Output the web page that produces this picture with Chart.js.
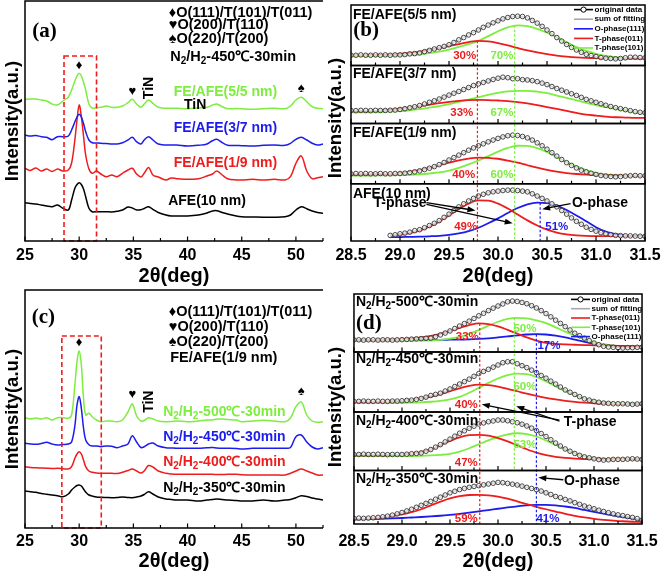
<!DOCTYPE html>
<html>
<head>
<meta charset="utf-8">
<script src="https://cdn.jsdelivr.net/npm/chart.js@4.4.1/dist/chart.umd.min.js"></script>
<style>
  html, body { margin: 0; padding: 0; background: #fff; }
  body { position: relative; width: 666px; height: 577px; overflow: hidden; }
  canvas { position: absolute; }
  .ytitle { position: absolute; font: bold 18.5px "Liberation Sans", Arial, sans-serif; color: #000;
            white-space: nowrap; transform: translate(-50%, -50%) rotate(-90deg); }
</style>
</head>
<body>
<canvas id="chartA" width="340" height="290" style="left:0;top:0"></canvas>
<canvas id="chartB" width="336" height="290" style="left:330px;top:0"></canvas>
<canvas id="chartC" width="340" height="288" style="left:0;top:289px"></canvas>
<canvas id="chartD" width="336" height="288" style="left:330px;top:289px"></canvas>
<div class="ytitle" style="left:12px;top:121px">Intensity(a.u.)</div>
<div class="ytitle" style="left:335px;top:118px">Intensity(a.u.)</div>
<div class="ytitle" style="left:12px;top:409px">Intensity(a.u.)</div>
<div class="ytitle" style="left:335px;top:407px">Intensity(a.u.)</div>
<script>
const FAM = '"Liberation Sans", Arial, sans-serif';
const SERIF = '"Liberation Serif", "Times New Roman", serif';
const GREEN = '#7ded3f', RED = '#ee1c1c', BLUE = '#1c1cee', GRAY = '#a8a8a8';

Chart.defaults.font.family = FAM;
Chart.defaults.font.weight = 'bold';
Chart.defaults.color = '#000';

// ---------- panels (a) and (c): XRD scans, 2theta grid ----------
const scanX = [25, 25.5, 26, 26.5, 27, 27.5, 28, 28.5, 29, 29.3, 29.6, 29.8, 30, 30.2, 30.4, 30.6, 30.9, 31.2, 31.6, 32,
  32.5, 33, 33.5, 34, 34.5, 34.9, 35.3, 35.7, 36, 36.4, 36.8, 37.3, 38, 38.5, 39, 40, 41, 41.8, 42.3, 42.7,
  43.2, 43.7, 44.5, 45, 46, 47, 48, 49, 49.5, 50, 50.5, 51, 51.5, 52, 52.5];

// (a) stacked scans, offset intensities
const a55 = [141.7,142,142,141,140,137,136,140,144,151, 160,165,167.7,165,159,151,137,133,133.3,133.7,
  135,133.7,133.7,135,138.3,141.7,137,133.7,137,141, 137.7,133.7,132.7,132.7,132.7,132.3,133,133.7,136,137,
  134.3,132.3,132.5,132.3,131.7,132.3,132.7,132.3,135,141, 143.7,139.3,134.3,132.7,132.3];
const a37 = [106,105,105.5,104.3,103.7,101.3,104.3,104.3,105,111, 119,124,126.7,124,117.5,109.3,101,98.3,98,97.7,
  97.5,97,97,98.3,101,103.7,99.3,97,101,104.3, 101,97,96,96,96,95,95.7,97,100.3,101.7,
  98.3,95.7,95.5,95.3,95,95.7,96,95.7,97.7,101.7, 103.7,101,97.7,96,97];
const a19 = [72.7,70.5,73,70,72,69.5,72,70,71,78, 101,121,136,124.3,105,86,72,67.7,70,67,
  64.3,66,64.3,67.7,71,72.7,67,64,67.7,73.5, 66,64,61,63,62.3,61.7,62.3,65,67,70,
  66,62.3,61,61,61.7,61,61.7,61,64.3,77.7, 85,70,62.3,63.3,64.3];
const aAFE = [38.3,37.5,37,36,35,34.3,36,32.7,31,41, 52.7,56.5,58.3,56.5,52,44.3,32.7,29.3,29.3,29.3,
  29.3,29,29.7,31,34,33,31,31.3,32.5,34.3, 31.7,28.5,26,25,25,25,26,28,30,30.3,
  28.5,27,25,24.3,24,23.7,23.7,24.3,26,31, 34.3,32.3,30,28.5,27.7];

// (c) stacked scans, offset intensities
const c500 = [110.3,109,110,109,110.3,108,110.3,110.3,109.7,113, 143,166.3,177,163,129.7,113,114.7,111.3,108,106.3,
  107,107,106.3,108,116,124,112,107,107.5,110.3, 109,107,106.3,106.5,107,106.3,107,108,108,109,
  109,108.5,108,106.3,107,107.7,107,106.3,110,121.3, 126,113,107,105.7,106.3];
const c450 = [84.7,84,83.7,84.5,85.7,84,83,83.5,84,86, 102,123,131.3,119.7,100,88,83.3,82,82,81.3,
  82,81.7,80.3,82,84,92.3,86,80.5,81.3,84, 85,82,80.3,80,79.7,79.7,79.7,80.3,80.5,80,
  79.7,79.7,79.5,79,79.7,79.7,79.7,79.7,80.5,91.3, 93,86,81,79,80.3];
const c400 = [61.3,60.5,60.3,60,59.7,59.5,59.7,59.3,59,61.3, 69.7,74,76.3,74,68,61.3,57,55.7,55,54.7,
  54.7,54.7,54.5,55.7,57.5,59,57,55,57,62.5, 61,57,54.7,54,53.7,53.7,53.7,53.7,53.7,53.5,
  53.5,53.7,53.7,53.3,53,53,53,53,54.7,57, 59,57,55,53,53];
const c350 = [37,36.3,35.7,34.5,33.7,33,32.3,31.3,34,38, 41,42.5,43,42,39,36,33,32,31,30.7,
  30.5,30.3,30.5,31,30.5,30.3,31,32,33.5,36.3, 34,31,29,28.5,28,28,27,28,28.5,29,
  28.5,28,27.5,27,27,28,27,28,28.5,30.3, 32.3,31.5,30,29,28];

// ---------- panels (b) and (d): peak fitting around 30 deg ----------
const fineX = [28.5,28.55,28.6,28.65,28.7,28.75,28.8,28.85,28.9,28.95,29,29.05,29.1,29.15,29.2,29.25,29.3,29.35,29.4,29.45,
  29.5,29.55,29.6,29.65,29.7,29.75,29.8,29.85,29.9,29.95,30,30.05,30.1,30.15,30.2,30.25,30.3,30.35,30.4,30.45,
  30.5,30.55,30.6,30.65,30.7,30.75,30.8,30.85,30.9,30.95,31,31.05,31.1,31.15,31.2,31.25,31.3,31.35,31.4,31.45,31.5];
const coarseX = [28.5,28.6,28.7,28.8,28.9,29,29.1,29.2,29.3,29.4,29.5,29.6,29.7,29.8,29.9,30,30.1,30.2,30.3,30.4,
  30.5,30.6,30.7,30.8,30.9,31,31.1,31.2,31.3,31.4,31.5];

// (b) FE/AFE(5/5 nm)
const b1Orig = [10.3,10.3,10.7,10.3,10.3,10.7,10.3,10.7,10.3,10.7, 10.7,11,11.7,12,12.7,14,15.3,16.7,18,19.3,
  21,23.3,26,28.3,31,33.3,36,38.7,41,43.3, 45.3,47.3,48.7,49.7,50,49.7,48.3,45.7,43,39.7,
  36,32.3,28.3,24.7,21.3,18.3,15.7,13.3,11.3,10, 9,8,7.3,7,6.7,7,7.7,8.3,8.3,8, 7.7];
const b1Sum = [10.3,10.3,10.3,10.4,10.5,10.7,11.7,12.7,15.3,18, 21,26,31,36,41,45.3,48.7,50,48.3,43,
  36,28.3,21.3,15.7,11.3,9,7.3,6.8,7.5,8.3, 7.8];
const b1T011 = [10.2,10.2,10.4,10.7,11,11.7,12.7,14,15.7,17.7, 19.7,21.7,23.7,25,24.4,22.7,20.4,17.7,15.2,13.2,
  11.4,10,9,8.2,7.7,7.4,7.2,7,6.9,6.9, 6.9];
const b1T101 = [9.4,9.4,9.4,9.5,9.7,9.9,10.4,11.2,12.4,14, 16,18.7,21.7,25,29.7,34.7,38.7,40.7,39.9,37.2,
  33.2,28.7,23.7,18.7,14.7,11.7,9.7,8.5,7.7,7.4, 7.2];
// (b) FE/AFE(3/7 nm)
const b2Orig = [13.2,13,13.3,13.2,13,13.3,13.2,13.2,13.4,13.6, 14.2,15,16,17,18.2,19.8,21.5,23,24.8,26.8,
  28.8,30.7,32.5,34.5,36.5,38.5,40.2,41.7,43.2,44.7, 46,47,46.5,45.5,45.5,44.5,44.2,43.5,42.5,41,
  39.5,37.5,35.5,33.8,32,30.2,28.5,26.5,24.5,23, 21.5,20,18.5,17.2,16,15,14,13,12,11.3, 10.8];
const b2Sum = [13.2,13.2,13.2,13.3,13.4,14.2,16,18.2,21.5,24.8, 28.8,32.5,36.5,40.2,43.2,46,46.5,45.5,44.2,42.5,
  39.5,35.5,32,28.5,24.5,21.5,18.5,16,14,12, 10.8];
const b2T011 = [12.3,12.3,12.4,13,14,15,16.3,17.7,19,20.7, 22,23,23.7,24,23.8,23.3,22.7,21.7,20.3,18.7,
  16.7,14.7,12.7,10.7,9,8,7,6.3,6,5.7, 5.7];
const b2T101 = [11.3,11.3,11.4,11.6,12,12.6,13.4,14.5,16,17.7, 19.7,22,24.3,26.7,29,31,32.5,33.2,33.2,32.3,
  30.7,28.3,26,23.5,21,18.7,16.5,14.7,13,11.3, 10];
// (b) FE/AFE(1/9 nm)
const b3Orig = [10,10.3,10,10.3,10,10,10.3,10,10,10.3, 10.3,10.7,11.3,12,13,14.3,15.7,17.3,19.3,21.5,
  24,26.5,29,31.5,34,36.3,38.5,40.5,42.5,44.3, 46,47.5,48.7,49.3,49,48,46.5,44.3,41.5,38.5,
  35,31.5,28,24.5,21.3,18.5,16,13.7,12,10.5, 9.3,8.3,7.7,7.3,7,7.3,7.7,8,8.3,8, 8];
const b3Sum = [10,10,10,10.2,10,10.3,11.3,13,15.7,19.3, 24,29,34,38.5,42.5,46,48.7,49,46.5,41.5,
  35,28,21.3,16,12,9.3,7.7,7,7.7,8.3, 8];
const b3T011 = [9.3,9.3,9.4,9.6,10,10.8,12,13.7,16,18.7, 21.3,23.7,25.5,26.5,26.3,25.3,23.5,21.3,18.7,16.2,
  14,12.2,10.8,9.8,9.2,8.8,8.5,8.3,8.2,8.1, 8];
const b3T101 = [8.3,8.3,8.3,8.4,8.5,8.7,9,9.5,10.3,11.5, 13.3,16,19.5,23.5,28,32.5,36.3,38.5,38.3,36,
  32,27,22,17.5,13.8,11,9.3,8.5,8.2,8, 8];
// (b) AFE(10 nm)
const b4Orig = [null,null,null,null,null,null,null,null,5.7,6.3, 7.3,8,9,10.5,11.5,13.5,15.7,18,20.7,24,
  27.3,31,34.7,37.8,40.7,43.3,45.7,47.5,49,50, 50.7,51.3,51.7,51.7,51.3,50.7,50,48,45.7,43.3,
  40.7,37.8,34.7,31,27.3,23.5,20,17,14,11.8, 10,8.5,7.3,6.5,5.7,5.5,5.3,5.2,5,4.8, 4.7];
const b4Sum = [null,null,null,null,5.7,7.3,9,11.5,15.7,20.7, 27.3,34.7,40.7,45.7,49,50.7,51.7,51.3,50,45.7,
  40.7,34.7,27.3,20,14,10,7.3,5.7,5.3,5, 4.7];
const b4T011 = [null,null,null,null,5.7,6.5,8,10.5,14.5,19.7, 26,32.5,38,41.3,41,38,33,27,21,15.8,
  11.5,8.5,6.7,5.7,5.2,5,5,5,5,5, 5];
const b4O111 = [null,null,null,null,4,4,4.2,4.4,4.8,5.3, 6.2,7.7,10,13.5,18,23,28.5,33.5,37.3,39,
  38.5,36,31.5,26,20,14,9.5,7,5.5,5, 4.7];

// (d) 500 C
const d1Orig = [12.3,12.3,12,12.3,12.3,12,12.3,12.3,12,12.3, 12.5,12.7,13,13.3,13.5,13.8,14,15.5,17.3,19.2,
  21.3,23.8,26.3,28.8,31.3,34,36.7,39.3,42,44.5, 46.7,48.8,51,51.7,51.3,50.3,49,47,44.7,42,
  39,35.7,32.3,29,25.7,22.3,19,16.5,14,11.5, 9,7.3,5.7,5,4.7,4.3,4,4.3,4.3,4.7, 4.7];
const d1Sum = [12.3,12,12.3,12.3,12,12.5,13,13.5,14,17.3, 21.3,26.3,31.3,36.7,42,46.7,51,51.3,49,44.7,
  39,32.3,25.7,19,14,9,5.7,4.7,4,4.3, 4.7];
const d1T011 = [12.3,12.3,12.3,12.4,12.6,13,13.7,14.7,16.2,18.3, 21.3,24.5,27.3,29,28.3,26,22.5,18.7,14.7,11.5,
  9.3,8.2,7.6,7.3,7,6.8,6.5,6.3,6,5.8, 5.7];
const d1T101 = [11.3,11.3,11.3,11.3,11.3,11.3,11.3,11.4,11.6,12.2, 13.5,15.3,18.3,22.3,26.7,30.7,33.7,34.7,34,32,
  29.3,25,20.7,16.7,13,10,7.8,6.5,6,5.8, 5.7];
const d1O111 = [12.3,12.3,12.3,12.3,12.3,12.3,12.3,12.3,12.3,12.3, 12.4,12.5,12.8,13.2,13.8,14.7,15.7,16.8,17.7,18,
  17.7,16.5,14.7,12.5,10.3,8.5,7.2,6.2,5.5,5, 4.7];
// (d) 450 C
const d2Orig = [10.7,10.7,11,10.7,10.7,11,10.7,10.7,11,11, 11.3,11.7,12,12.7,13.7,15,16.7,17.8,19,21.2,
  23.3,25.8,28.3,30.8,33.3,36.2,39,41.2,43.3,45.5, 47.7,50,51,51,49,47,45,42.5,40,37,
  34.3,31.3,28.3,25.3,22.3,20,17.7,15.5,13.3,12, 10.7,9.8,9,8.7,8.3,8.3,8.3,8,7.7,8, 8.3];
const d2Sum = [10.7,11,10.7,10.7,11,11.3,12,13.7,16.7,19, 23.3,28.3,33.3,39,43.3,47.7,51,49,45,40,
  34.3,28.3,22.3,17.7,13.3,10.7,9,8.3,8.3,7.7, 8.3];
const d2T011 = [10,10,10.1,10.3,10.7,11.3,12.3,13.7,15.5,18, 21,24,26.5,27.7,27.3,25.8,23.5,21,18.5,16.3,
  14.3,12.7,11.3,10.2,9.4,8.8,8.4,8.1,7.9,7.8, 7.7];
const d2T101 = [9.3,9.3,9.3,9.3,9.3,9.3,9.4,9.7,10.3,11.2, 12.7,15.3,19.5,24.5,29.5,34,37.5,39,38.3,35.5,
  31,26,21.3,17,13.5,11.3,9.8,9,8.6,8.4, 8.3];
// (d) 400 C
const d3Orig = [16.2,16.2,16.5,16.2,16.2,16.5,16.2,16,16.2,16.2, 16.2,16.5,17,17.3,17.8,19.5,21.2,23.7,26.2,29,
  31.8,34.8,37.8,40.3,42.8,45,47.2,48.3,49.5,50.3, 51.2,51.2,50.5,49.5,48.5,47,45.2,43,40.5,37.5,
  34.5,31.2,27.8,24.8,21.8,19.5,17.2,15.3,13.8,12.8, 11.8,11,10.5,10.8,11.2,11.2,11.2,11.5,11.8,11.5, 11.2];
const d3Sum = [16.2,16.5,16.2,16.2,16.2,16.2,17,17.8,21.2,26.2, 31.8,37.8,42.8,47.2,49.5,51.2,50.5,48.5,45.2,40.5,
  34.5,27.8,21.8,17.2,13.8,11.8,10.5,11.2,11.2,11.8, 11.2];
const d3T011 = [15.2,15.2,15.2,15.3,15.5,16,17,18.7,21.2,25.5, 30,33.7,35.8,36.2,35.3,32.8,29.5,25.5,21.5,18,
  15.5,13.8,12.7,12,11.6,11.4,11.3,11.2,11.2,11.2, 11.2];
const d3T101 = [14.5,14.5,14.5,14.5,14.5,14.5,14.6,14.8,15.2,15.8, 16.8,19,22.5,26.5,30.5,34,36.7,37.8,37,34.5,
  30.5,26,21.5,17.5,14.5,12.8,12,11.6,11.4,11.3, 11.2];
// (d) 350 C
const d4Orig = [5.7,6,5.7,6,6.3,6.7,7.3,8,9,10.3, 11.7,13.3,15,17,19,21,23,25.2,27.3,29.5,
  31.7,33.3,35,36.2,37.3,38.2,39,39.8,40.7,41.5, 42.3,42,41.3,40.5,39.7,38.5,37.3,36.2,35,33.5,
  31.7,30,28,26.8,25,23.5,21.7,20,18.3,17, 15.5,14,12.7,11.5,10.3,9.3,8.5,7.5,6.7,5.5, 4];
const d4Sum = [5.7,5.7,6.3,7.3,9,11.7,15,19,23,27.3, 31.7,35,37.3,39,40.7,42.3,41.3,39.7,37.3,35,
  31.7,28,25,21.7,18.3,15.5,12.7,10.3,8.5,6.7, 4];
const d4T011 = [4.7,5,5.7,6.7,8,9.7,12,15,19,22.7, 26,28.3,29.5,29.7,29.2,27.8,25.7,23,20.3,17.5,
  15,12.7,10.3,8.3,6.7,5.3,4.3,3.5,2.8,2.3, 2];
const d4O111 = [4.7,4.9,5.1,5.4,5.7,6.1,6.6,7.1,7.7,8.4, 9.3,10.3,11.5,12.8,14.2,15.5,16.8,18,19,19.5,
  19.5,19,17.8,16.3,14.3,12.3,10.5,8.7,7,5.7, 4];

// fitted peak centres (deg)
const bPeaks = { T011: 29.79, T101: 30.17, O111: 30.43 };
const dPeaks = { T011: 29.81, T101: 30.17, O111: 30.40 };

const pts = (xs, ys) => xs.map((x, i) => ({ x, y: ys[i] }));

// ---------- drawing helpers ----------
function drawText(ctx, n, px, py) {
  const size = n.s || 14;
  const fam = n.serif ? SERIF : FAM;
  const parts = String(n.t).split(/(_\d)/).filter(Boolean)
    .map(p => p[0] === '_' ? { t: p.slice(1), sub: true } : { t: p, sub: false });
  const fN = `bold ${size}px ${fam}`, fS = `bold ${Math.round(size * 0.68)}px ${fam}`;
  let w = 0;
  parts.forEach(p => { ctx.font = p.sub ? fS : fN; p.w = ctx.measureText(p.t).width; w += p.w; });
  ctx.save();
  ctx.translate(px, py);
  if (n.rot) ctx.rotate(n.rot * Math.PI / 180);
  let x = n.al === 'left' ? 0 : -w / 2;
  ctx.fillStyle = n.c || '#000';
  ctx.textBaseline = 'middle';
  ctx.textAlign = 'left';
  parts.forEach(p => { ctx.font = p.sub ? fS : fN; ctx.fillText(p.t, x, p.sub ? size * 0.3 : 0); x += p.w; });
  ctx.restore();
}

function drawArrow(ctx, x0, y0, x1, y1) {
  const a = Math.atan2(y1 - y0, x1 - x0), L = 8, W = 3;
  ctx.strokeStyle = '#000'; ctx.fillStyle = '#000'; ctx.lineWidth = 1.3;
  ctx.beginPath(); ctx.moveTo(x0, y0); ctx.lineTo(x1 - L * 0.8 * Math.cos(a), y1 - L * 0.8 * Math.sin(a)); ctx.stroke();
  ctx.beginPath();
  ctx.moveTo(x1, y1);
  ctx.lineTo(x1 - L * Math.cos(a) + W * Math.sin(a), y1 - L * Math.sin(a) - W * Math.cos(a));
  ctx.lineTo(x1 - L * Math.cos(a) - W * Math.sin(a), y1 - L * Math.sin(a) + W * Math.cos(a));
  ctx.closePath(); ctx.fill();
}

const decoPlugin = {
  id: 'deco',
  afterDatasetsDraw(chart, args, o) {
    const { ctx, chartArea: ca, scales } = chart;
    const xs = scales.x;
    ctx.save();
    // dashed guide lines at fitted peak centres
    (o.guides || []).forEach(g => {
      const px = xs.getPixelForValue(g.x);
      ctx.strokeStyle = g.color; ctx.lineWidth = 1.2; ctx.setLineDash([2.5, 2]);
      ctx.beginPath();
      ctx.moveTo(px, scales[g.from].getPixelForValue(g.y));
      ctx.lineTo(px, scales[g.to].bottom);
      ctx.stroke();
    });
    // dashed selection box
    (o.boxes || []).forEach(b => {
      const x0 = xs.getPixelForValue(b.x0), x1 = xs.getPixelForValue(b.x1);
      const y0 = scales.y.getPixelForValue(b.y0), y1 = scales.y.getPixelForValue(b.y1);
      ctx.strokeStyle = RED; ctx.lineWidth = 1.6; ctx.setLineDash([5, 3]);
      ctx.strokeRect(x0, y1, x1 - x0, y0 - y1);
    });
    ctx.setLineDash([]);
    // frames and inward ticks
    o.panels.forEach(k => {
      const s = scales[k];
      ctx.strokeStyle = '#000'; ctx.lineWidth = 1.5;
      ctx.beginPath();
      if (o.open) {
        ctx.moveTo(ca.right, s.top); ctx.lineTo(ca.left, s.top);
        ctx.lineTo(ca.left, s.bottom); ctx.lineTo(ca.right, s.bottom);
      } else {
        ctx.rect(ca.left, s.top, ca.right - ca.left, s.bottom - s.top);
      }
      ctx.stroke();
      ctx.lineWidth = 1.2;
      ctx.beginPath();
      for (let v = xs.min; v <= xs.max + 1e-9; v += o.minor) {
        const px = xs.getPixelForValue(v);
        const r = v / o.major;
        const len = Math.abs(r - Math.round(r)) < 1e-6 ? 4.5 : 3;
        ctx.moveTo(px, s.bottom); ctx.lineTo(px, s.bottom - len);
      }
      ctx.stroke();
    });
    // text notes
    (o.notes || []).forEach(n => {
      drawText(ctx, n, xs.getPixelForValue(n.x), scales[n.ax || 'y'].getPixelForValue(n.y));
    });
    // arrows
    (o.arrows || []).forEach(a => {
      drawArrow(ctx, xs.getPixelForValue(a.x0), scales[a.ax0].getPixelForValue(a.y0),
                xs.getPixelForValue(a.x1), scales[a.ax1].getPixelForValue(a.y1));
    });
    // legend box
    if (o.legend) {
      const L = o.legend;
      L.items.forEach(([label, kind], i) => {
        const y = ca.top + L.top + i * L.gap;
        const x0 = ca.right - 71, x1 = ca.right - 52;
        ctx.strokeStyle = kind === 'orig' ? '#000' : kind; ctx.lineWidth = 1.6;
        ctx.beginPath(); ctx.moveTo(x0, y); ctx.lineTo(x1, y); ctx.stroke();
        if (kind === 'orig') {
          ctx.lineWidth = 1; ctx.fillStyle = '#fff';
          ctx.beginPath(); ctx.arc((x0 + x1) / 2, y, 2.6, 0, Math.PI * 2); ctx.fill(); ctx.stroke();
        }
        ctx.fillStyle = '#000'; ctx.font = `bold 8px ${FAM}`;
        ctx.textAlign = 'left'; ctx.textBaseline = 'middle';
        ctx.fillText(label, ca.right - 50.5, y);
      });
    }
    ctx.restore();
  }
};

function xTitle() {
  return { display: true, text: '2θ(deg)', font: { size: 20, weight: 'bold' }, color: '#000', padding: 0 };
}

function scanChart(id, series, lay, deco) {
  return new Chart(document.getElementById(id), {
    type: 'line',
    data: {
      datasets: series.map(([label, color, ys]) => ({
        label, data: pts(scanX, ys), borderColor: color, borderWidth: 1.5,
        pointRadius: 0, tension: 0.35
      }))
    },
    options: {
      responsive: false, animation: false, events: [],
      layout: { padding: lay.pad },
      scales: {
        x: {
          type: 'linear', min: 25, max: 52.5,
          ticks: { stepSize: 5, includeBounds: false, autoSkip: false, maxRotation: 0,
                   padding: lay.tickPad, font: { size: 16, weight: 'bold' }, color: '#000' },
          grid: { display: false, drawTicks: false }, border: { display: false },
          title: xTitle(),
          afterFit: s => { s.height = lay.axisH; }
        },
        y: { display: false, min: 0, max: lay.yMax }
      },
      plugins: { legend: { display: false }, tooltip: { enabled: false }, deco }
    },
    plugins: [decoPlugin]
  });
}

function fitChart(id, subs, lay, deco) {
  const scales = {
    x: {
      type: 'linear', min: 28.5, max: 31.5,
      ticks: { stepSize: 0.5, autoSkip: false, maxRotation: 0, callback: v => v.toFixed(1),
               padding: lay.tickPad, font: { size: 16, weight: 'bold' }, color: '#000' },
      grid: { display: false, drawTicks: false }, border: { display: false },
      title: xTitle(),
      afterFit: s => { s.height = lay.axisH; }
    }
  };
  // last defined stacked axis is placed on top
  subs.slice().reverse().forEach(sp => {
    scales[sp.id] = {
      type: 'linear', position: 'left', stack: 'fit', stackWeight: sp.h, min: 0, max: sp.h,
      ticks: { display: false }, grid: { display: false, drawTicks: false }, border: { display: false },
      afterFit: s => { s.width = 0; }
    };
  });
  const datasets = [];
  subs.forEach(sp => {
    datasets.push({ label: 'original data', yAxisID: sp.id, data: pts(fineX, sp.orig), showLine: false,
      pointRadius: 2.3, pointBorderWidth: 0.9, pointBorderColor: '#333', pointBackgroundColor: 'rgba(255,255,255,0.55)' });
    datasets.push({ label: 'sum of fitting', yAxisID: sp.id, data: pts(coarseX, sp.sum), borderColor: GRAY,
      borderWidth: 1.5, pointRadius: 0, cubicInterpolationMode: 'monotone' });
    sp.fits.forEach(([label, color, ys]) => datasets.push({ label, yAxisID: sp.id, data: pts(coarseX, ys),
      borderColor: color, borderWidth: 1.8, pointRadius: 0, cubicInterpolationMode: 'monotone' }));
  });
  return new Chart(document.getElementById(id), {
    type: 'line',
    data: { datasets },
    options: {
      responsive: false, animation: false, events: [],
      layout: { padding: lay.pad },
      scales,
      plugins: { legend: { display: false }, tooltip: { enabled: false }, deco }
    },
    plugins: [decoPlugin]
  });
}

// ---------- (a) ----------
scanChart('chartA', [
  ['FE/AFE(5/5 nm)', GREEN, a55], ['FE/AFE(3/7 nm)', BLUE, a37],
  ['FE/AFE(1/9 nm)', RED, a19], ['AFE(10 nm)', '#000', aAFE]
], { pad: { left: 25, right: 17, top: 1, bottom: 2 }, axisH: 47, tickPad: 5.4, yMax: 240 }, {
  panels: ['y'], open: true, minor: 2.5, major: 5,
  boxes: [{ x0: 28.6, x1: 31.6, y0: 0, y1: 185 }],
  notes: [
    { x: 38.27, y: 228.3, t: '♦O(111)/T(101)/T(011)', al: 'left', s: 14.5 },
    { x: 38.27, y: 216, t: '♥O(200)/T(110)', al: 'left', s: 14.5 },
    { x: 38.27, y: 201.7, t: '♠O(220)/T(200)', al: 'left', s: 14.5 },
    { x: 38.4, y: 184.3, t: 'N_2/H_2-450℃-30min', al: 'left', s: 14.5 },
    { x: 26.8, y: 209, t: '(a)', serif: true, s: 21 },
    { x: 30.0, y: 176, t: '♦', s: 13 },
    { x: 34.9, y: 149.3, t: '♥', s: 13 },
    { x: 50.5, y: 152.7, t: '♠', s: 13 },
    { x: 36.5, y: 153, t: 'TiN', rot: -90, s: 14 },
    { x: 40.7, y: 136, t: 'TiN', s: 14 },
    { x: 43.5, y: 149.3, t: 'FE/AFE(5/5 nm)', c: GREEN },
    { x: 43.5, y: 112.7, t: 'FE/AFE(3/7 nm)', c: BLUE },
    { x: 43.5, y: 77.7, t: 'FE/AFE(1/9 nm)', c: RED },
    { x: 41.8, y: 40, t: 'AFE(10 nm)' }
  ]
});

// ---------- (c) ----------
scanChart('chartC', [
  ['N2/H2-500', GREEN, c500], ['N2/H2-450', BLUE, c450],
  ['N2/H2-400', RED, c400], ['N2/H2-350', '#000', c350]
], { pad: { left: 25, right: 17, top: 1, bottom: 4 }, axisH: 45, tickPad: 4.4, yMax: 238 }, {
  panels: ['y'], open: true, minor: 2.5, major: 5,
  boxes: [{ x0: 28.4, x1: 32.04, y0: 0, y1: 192 }],
  notes: [
    { x: 38.27, y: 216.3, t: '♦O(111)/T(101)/T(011)', al: 'left', s: 14.5 },
    { x: 38.27, y: 201.3, t: '♥O(200)/T(110)', al: 'left', s: 14.5 },
    { x: 38.27, y: 185.7, t: '♠O(220)/T(200)', al: 'left', s: 14.5 },
    { x: 38.4, y: 169.7, t: 'FE/AFE(1/9 nm)', al: 'left', s: 14.5 },
    { x: 26.7, y: 210, t: '(c)', serif: true, s: 21 },
    { x: 30.0, y: 185.3, t: '♦', s: 13 },
    { x: 34.9, y: 133.7, t: '♥', s: 13 },
    { x: 50.5, y: 136.3, t: '♠', s: 13 },
    { x: 36.5, y: 126.3, t: 'TiN', rot: -90, s: 14 },
    { x: 43.4, y: 115.7, t: 'N_2/H_2-500℃-30min', c: GREEN },
    { x: 43.4, y: 91.3, t: 'N_2/H_2-450℃-30min', c: BLUE },
    { x: 43.4, y: 65.7, t: 'N_2/H_2-400℃-30min', c: RED },
    { x: 43.4, y: 40.3, t: 'N_2/H_2-350℃-30min' }
  ]
});

// ---------- (b) ----------
fitChart('chartB', [
  { id: 'yb1', h: 61.5, orig: b1Orig, sum: b1Sum, fits: [['T-phase(011)', RED, b1T011], ['T-phase(101)', GREEN, b1T101]] },
  { id: 'yb2', h: 59, orig: b2Orig, sum: b2Sum, fits: [['T-phase(011)', RED, b2T011], ['T-phase(101)', GREEN, b2T101]] },
  { id: 'yb3', h: 61.2, orig: b3Orig, sum: b3Sum, fits: [['T-phase(011)', RED, b3T011], ['T-phase(101)', GREEN, b3T101]] },
  { id: 'yb4', h: 58.3, orig: b4Orig, sum: b4Sum, fits: [['T-phase(011)', RED, b4T011], ['O-phase(111)', BLUE, b4O111]] }
], { pad: { left: 21, right: 17, top: 1, bottom: 2 }, axisH: 47, tickPad: 5.4 }, {
  panels: ['yb1', 'yb2', 'yb3', 'yb4'], minor: 0.25, major: 0.5,
  guides: [
    { x: bPeaks.T011, color: RED, from: 'yb1', y: Math.max(...b1T011), to: 'yb4' },
    { x: bPeaks.T101, color: GREEN, from: 'yb1', y: Math.max(...b1T101), to: 'yb4' },
    { x: bPeaks.O111, color: BLUE, from: 'yb4', y: Math.max(...b4O111), to: 'yb4' }
  ],
  notes: [
    { ax: 'yb1', x: 28.52, y: 51, t: 'FE/AFE(5/5 nm)', al: 'left' },
    { ax: 'yb2', x: 28.52, y: 49.8, t: 'FE/AFE(3/7 nm)', al: 'left' },
    { ax: 'yb3', x: 28.52, y: 51, t: 'FE/AFE(1/9 nm)', al: 'left' },
    { ax: 'yb4', x: 28.52, y: 48, t: 'AFE(10 nm)', al: 'left' },
    { ax: 'yb1', x: 28.655, y: 35, t: '(b)', serif: true, s: 21 },
    { ax: 'yb1', x: 29.66, y: 9.3, t: '30%', c: RED, s: 11.5 },
    { ax: 'yb1', x: 30.04, y: 9.3, t: '70%', c: GREEN, s: 11.5 },
    { ax: 'yb2', x: 29.63, y: 10.7, t: '33%', c: RED, s: 11.5 },
    { ax: 'yb2', x: 30.04, y: 10.7, t: '67%', c: GREEN, s: 11.5 },
    { ax: 'yb3', x: 29.65, y: 9.3, t: '40%', c: RED, s: 11.5 },
    { ax: 'yb3', x: 30.04, y: 9.3, t: '60%', c: GREEN, s: 11.5 },
    { ax: 'yb4', x: 29.67, y: 14, t: '49%', c: RED, s: 11.5 },
    { ax: 'yb4', x: 30.6, y: 14, t: '51%', c: BLUE, s: 11.5 },
    { ax: 'yb4', x: 29.0, y: 38, t: 'T-phase' },
    { ax: 'yb4', x: 31.04, y: 38, t: 'O-phase' }
  ],
  arrows: [
    { ax0: 'yb4', x0: 29.27, y0: 39, ax1: 'yb4', x1: 29.77, y1: 31 },
    { ax0: 'yb4', x0: 29.27, y0: 37.3, ax1: 'yb4', x1: 30.15, y1: 18 },
    { ax0: 'yb4', x0: 30.74, y0: 38, ax1: 'yb4', x1: 30.45, y1: 32.3 }
  ],
  legend: { top: 4.7, gap: 9.6, items: [['original data', 'orig'], ['sum of fitting', GRAY],
    ['O-phase(111)', BLUE], ['T-phase(011)', RED], ['T-phase(101)', GREEN]] }
});

// ---------- (d) ----------
fitChart('chartD', [
  { id: 'yd1', h: 59, orig: d1Orig, sum: d1Sum, fits: [['T-phase(011)', RED, d1T011], ['T-phase(101)', GREEN, d1T101], ['O-phase(111)', BLUE, d1O111]] },
  { id: 'yd2', h: 61, orig: d2Orig, sum: d2Sum, fits: [['T-phase(011)', RED, d2T011], ['T-phase(101)', GREEN, d2T101]] },
  { id: 'yd3', h: 59.5, orig: d3Orig, sum: d3Sum, fits: [['T-phase(011)', RED, d3T011], ['T-phase(101)', GREEN, d3T101]] },
  { id: 'yd4', h: 54.5, orig: d4Orig, sum: d4Sum, fits: [['T-phase(011)', RED, d4T011], ['O-phase(111)', BLUE, d4O111]] }
], { pad: { left: 21, right: 17, top: 1, bottom: 4 }, axisH: 49, tickPad: 8.4 }, {
  panels: ['yd1', 'yd2', 'yd3', 'yd4'], minor: 0.25, major: 0.5,
  guides: [
    { x: dPeaks.T011, color: RED, from: 'yd1', y: Math.max(...d1T011), to: 'yd4' },
    { x: dPeaks.T101, color: GREEN, from: 'yd1', y: Math.max(...d1T101), to: 'yd3' },
    { x: dPeaks.O111, color: BLUE, from: 'yd1', y: Math.max(...d1O111), to: 'yd4' }
  ],
  notes: [
    { ax: 'yd1', x: 28.52, y: 50.7, t: 'N_2/H_2-500℃-30min', al: 'left' },
    { ax: 'yd2', x: 28.52, y: 53.3, t: 'N_2/H_2-450℃-30min', al: 'left' },
    { ax: 'yd3', x: 28.52, y: 50.5, t: 'N_2/H_2-400℃-30min', al: 'left' },
    { ax: 'yd4', x: 28.52, y: 45.7, t: 'N_2/H_2-350℃-30min', al: 'left' },
    { ax: 'yd1', x: 28.655, y: 29, t: '(d)', serif: true, s: 21 },
    { ax: 'yd1', x: 29.68, y: 15.7, t: '33%', c: RED, s: 11.5 },
    { ax: 'yd1', x: 30.28, y: 23.3, t: '50%', c: GREEN, s: 11.5 },
    { ax: 'yd1', x: 30.53, y: 5.7, t: '17%', c: BLUE, s: 11.5 },
    { ax: 'yd2', x: 29.67, y: 7.7, t: '40%', c: RED, s: 11.5 },
    { ax: 'yd2', x: 30.28, y: 25.7, t: '60%', c: GREEN, s: 11.5 },
    { ax: 'yd3', x: 29.67, y: 7.8, t: '47%', c: RED, s: 11.5 },
    { ax: 'yd3', x: 30.28, y: 26.2, t: '53%', c: GREEN, s: 11.5 },
    { ax: 'yd4', x: 29.67, y: 5, t: '59%', c: RED, s: 11.5 },
    { ax: 'yd4', x: 30.52, y: 5, t: '41%', c: BLUE, s: 11.5 },
    { ax: 'yd3', x: 30.96, y: 49.5, t: 'T-phase' },
    { ax: 'yd4', x: 30.98, y: 43.3, t: 'O-phase' }
  ],
  arrows: [
    { ax0: 'yd3', x0: 30.64, y0: 51.2, ax1: 'yd2', x1: 29.83, y1: 7.7 },
    { ax0: 'yd3', x0: 30.64, y0: 50, ax1: 'yd2', x1: 30.19, y1: 5.7 },
    { ax0: 'yd4', x0: 30.68, y0: 45, ax1: 'yd4', x1: 30.42, y1: 47.3 }
  ],
  legend: { top: 5.5, gap: 9.3, items: [['original data', 'orig'], ['sum of fitting', GRAY],
    ['T-phase(011)', RED], ['T-phase(101)', GREEN], ['O-phase(111)', BLUE]] }
});
</script>
</body>
</html>
